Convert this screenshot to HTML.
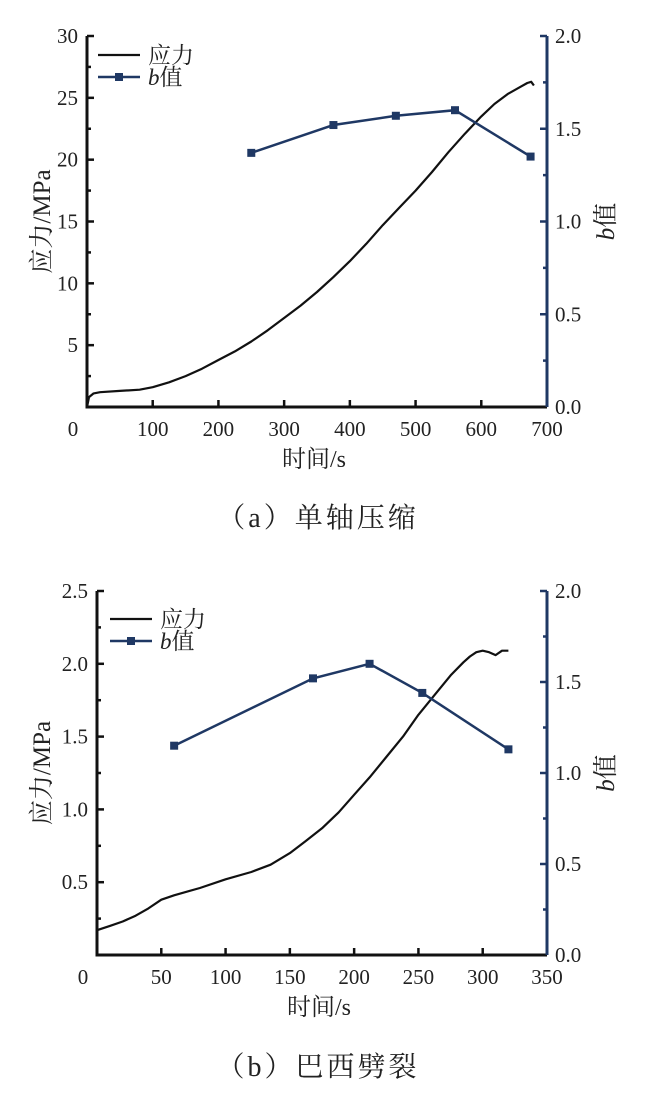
<!DOCTYPE html>
<html><head><meta charset="utf-8"><style>
body{margin:0;background:#fff}
svg{display:block}
text{font-family:"Liberation Serif","Noto Serif CJK SC",serif;fill:#222}
.cj{font-family:"Liberation Serif","Noto Serif CJK SC",serif}
</style></head><body>
<svg id="svg" width="649" height="1104" viewBox="0 0 649 1104"></svg>
<script>
// Chart (a) data
const aStressT=[0,3,10,20,50,80,100,125,150,175,200,225,250,275,300,325,350,375,400,425,450,475,500,525,550,575,600,620,640,660,670,676,680];
const aStressV=[0,0.8,1.1,1.2,1.3,1.4,1.6,2.0,2.5,3.1,3.8,4.5,5.3,6.2,7.2,8.2,9.3,10.5,11.8,13.2,14.7,16.1,17.5,19.0,20.6,22.1,23.5,24.5,25.3,25.9,26.2,26.3,26.0];
const aBT=[250,375,470,560,675];
const aBV=[1.37,1.52,1.57,1.60,1.35];
const aXTicks=[0,100,200,300,400,500,600,700];
const aYTicks=[5,10,15,20,25,30];
const aY2Ticks=[0.0,0.5,1.0,1.5,2.0];
// Chart (b) data
const bStressT=[0,10,20,30,40,50,60,80,100,120,135,150,162,175,188,200,212,225,238,250,262,275,285,290,295,300,305,310,315,320];
const bStressV=[0.17,0.20,0.23,0.27,0.32,0.38,0.41,0.46,0.52,0.57,0.62,0.70,0.78,0.87,0.98,1.1,1.22,1.36,1.50,1.65,1.78,1.92,2.01,2.05,2.08,2.09,2.08,2.06,2.09,2.09];
const bBT=[60,168,212,253,320];
const bBV=[1.15,1.52,1.60,1.44,1.13];
const bXTicks=[0,50,100,150,200,250,300,350];
const bYTicks=[0.5,1.0,1.5,2.0,2.5];
const bY2Ticks=[0.0,0.5,1.0,1.5,2.0];

const NS="http://www.w3.org/2000/svg";
const svg=document.getElementById('svg');
function mk(tag,attrs,parent,txt){const e=document.createElementNS(NS,tag);for(const k in attrs)e.setAttribute(k,attrs[k]);if(txt!==undefined)e.textContent=txt;(parent||svg).appendChild(e);return e;}
const NAVY="#1f3864";

function chart(o){
  const g=mk('g',{});
  
  
  const X=v=>o.L+(v-o.xmin)/(o.xmax-o.xmin)*(o.R-o.L);
  const Y=v=>o.B-(v/o.ymax)*(o.B-o.T);
  const Y2=v=>o.B-(v/2.0)*(o.B-o.T);
  let d=o.st.map((t,i)=>(i?'L':'M')+X(t).toFixed(1)+','+Y(o.sv[i]).toFixed(1)).join('');
  const sl=mk('path',{d:d,fill:'none',stroke:'#111','stroke-width':2.2,'stroke-linejoin':'round'},g);
  
  
  d=o.bt.map((t,i)=>(i?'L':'M')+X(t).toFixed(1)+','+Y2(o.bv[i]).toFixed(1)).join('');
  const bl=mk('path',{d:d,fill:'none',stroke:NAVY,'stroke-width':2.5},g);
  
  
  o.bt.forEach((t,i)=>{
    const r=mk('rect',{x:X(t)-4,y:Y2(o.bv[i])-4,width:8,height:8,fill:NAVY},g);
    
    
  });
  const ax=mk('path',{d:`M${o.L},${o.T}V${o.B}H${o.R}`,fill:'none',stroke:'#111','stroke-width':3},g);
  
  
  const ra=mk('line',{x1:o.R,y1:o.T,x2:o.R,y2:o.B,stroke:NAVY,'stroke-width':3},g);
  
  
  o.xt.forEach((v,i)=>{
    if(i>0&&i<o.xt.length-1) mk('line',{x1:X(v),x2:X(v),y1:o.B,y2:o.B-7,stroke:'#111','stroke-width':2.5},g);
    const tx=mk('text',{x:i==0?X(v)-14:X(v),y:o.B+29,'font-size':21,'text-anchor':'middle'},g,v);
    
    
  });
  const st=o.yt[0];
  for(let v=st/2;v<=o.ymax+1e-9;v+=st/2){
    const major=Math.abs(v/st-Math.round(v/st))<1e-6;
    mk('line',{x1:o.L,x2:o.L+(major?7:4),y1:Y(v),y2:Y(v),stroke:'#111','stroke-width':2.5},g);
  }
  o.yt.forEach(v=>{
    const tx=mk('text',{x:o.L-9,y:Y(v)+7,'font-size':21,'text-anchor':'end'},g,o.yfmt(v));
    
    
  });
  for(let v=0.25;v<=2.0;v+=0.25){
    const major=Math.abs(v*2-Math.round(v*2))<1e-6;
    mk('line',{x1:o.R,x2:o.R-(major?7:4),y1:Y2(v),y2:Y2(v),stroke:NAVY,'stroke-width':2.5},g);
  }
  o.y2t.forEach(v=>{
    const tx=mk('text',{x:o.R+8,y:Y2(v)+7,'font-size':21},g,v.toFixed(1));
    
    
  });
  const xt=mk('text',{x:(o.L+o.R)/2-3,y:o.B+60,'font-size':24,'text-anchor':'middle',class:'cj'},g,'时间/s');
  
  
  const yc=(o.T+o.B)/2;
  const yt=mk('text',{x:0,y:0,'font-size':25,'text-anchor':'middle',class:'cj',transform:`translate(50,${yc}) rotate(-90)`},g,'应力/MPa');
  
  
  const y2=mk('text',{x:0,y:0,'font-size':25,'text-anchor':'middle',class:'cj',transform:`translate(${o.R+67},${yc}) rotate(-90)`},g);
  
  
  mk('tspan',{'font-style':'italic','font-family':'Liberation Serif'},y2,'b');
  mk('tspan',{},y2,'值');
  const lg=mk('g',{},g);
  
  
  mk('line',{x1:o.lx,x2:o.lx+42,y1:o.ly,y2:o.ly,stroke:'#111','stroke-width':2.2},lg);
  mk('text',{x:o.lx+50,y:o.ly+8,'font-size':23,class:'cj'},lg,'应力');
  mk('line',{x1:o.lx,x2:o.lx+42,y1:o.ly+22,y2:o.ly+22,stroke:NAVY,'stroke-width':2.5},lg);
  mk('rect',{x:o.lx+17,y:o.ly+18,width:8,height:8,fill:NAVY},lg);
  const l2=mk('text',{x:o.lx+50,y:o.ly+30,'font-size':23,class:'cj'},lg);
  mk('tspan',{'font-style':'italic','font-family':'Liberation Serif'},l2,'b');
  mk('tspan',{},l2,'值');
  const cp=mk('text',{x:o.capx,y:o.capy,'font-size':28,'letter-spacing':3,class:'cj','text-anchor':'middle'},svg,o.cap);
  
  
}
chart({name:'chart-uniaxial-compression',L:87,R:547,T:36,B:407,xmin:0,xmax:700,ymax:30,
  st:aStressT,sv:aStressV,bt:aBT,bv:aBV,xt:aXTicks,yt:aYTicks,y2t:aY2Ticks,yfmt:v=>String(v),
  lx:98,ly:55,cap:'（a）单轴压缩',capx:318,capy:527});
chart({name:'chart-brazilian-splitting',L:97,R:547,T:591,B:955,xmin:0,xmax:350,ymax:2.5,
  st:bStressT,sv:bStressV,bt:bBT,bv:bBV,xt:bXTicks,yt:bYTicks,y2t:bY2Ticks,yfmt:v=>v.toFixed(1),
  lx:110,ly:619,cap:'（b）巴西劈裂',capx:318,capy:1076});
</script>
</body></html>
